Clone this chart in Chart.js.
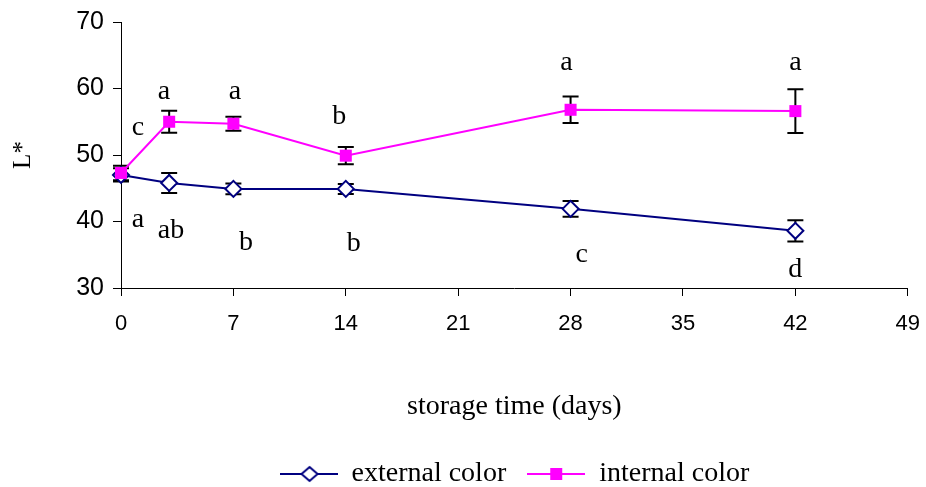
<!DOCTYPE html>
<html>
<head>
<meta charset="utf-8">
<script src="https://cdn.jsdelivr.net/npm/chart.js@4"></script>
<style>
  html, body { margin: 0; padding: 0; background: #fff; }
  #wrap { width: 926px; height: 487px; }
</style>
</head>
<body>
<div id="wrap"><canvas id="chart"></canvas></div>
<script>
// storage days and L* means with error bars
const days = [0, 3, 7, 14, 28, 42];
const externalL = [47.0, 45.8, 44.9, 44.9, 41.9, 38.6];
const externalErr = [1.0, 1.5, 0.8, 0.75, 1.2, 1.6];
const internalL = [47.3, 55.0, 54.7, 49.9, 56.8, 56.6];
const internalErr = [1.1, 1.65, 1.05, 1.3, 2.0, 3.3];

const xTicks = [0, 7, 14, 21, 28, 35, 42, 49];
const yTicks = [30, 40, 50, 60, 70];

// significance letters (day, L* of baseline, text)
const letterText = ['c', 'a', 'a', 'ab', 'a', 'b', 'b', 'b', 'a', 'c', 'a', 'd'];
const letterDay = [1.06, 1.06, 2.68, 3.11, 7.09, 7.78, 13.6, 14.5, 27.75, 28.7, 42.0, 42.0];
const letterL = [53.0, 39.2, 58.4, 37.5, 58.4, 35.7, 54.7, 35.6, 62.8, 33.9, 62.8, 31.65];

const NAVY = '#000080';
const MAGENTA = '#ff00ff';
const SERIF = '"Liberation Serif", "Times New Roman", serif';

function legendIcon(kind) {
  const c = document.createElement('canvas');
  c.width = 58; c.height = 20;
  const g = c.getContext('2d');
  g.lineWidth = 2;
  if (kind === 'diamond') {
    g.strokeStyle = NAVY;
    g.beginPath(); g.moveTo(0, 10); g.lineTo(58, 10); g.stroke();
    g.fillStyle = '#fff';
    g.beginPath();
    g.moveTo(30, 3); g.lineTo(38, 10); g.lineTo(30, 17); g.lineTo(22, 10); g.closePath();
    g.fill(); g.stroke();
  } else {
    g.strokeStyle = MAGENTA;
    g.beginPath(); g.moveTo(0, 10); g.lineTo(58, 10); g.stroke();
    g.fillStyle = MAGENTA;
    g.fillRect(23, 4, 12, 12);
  }
  return c;
}

const errorBars = {
  id: 'errorBars',
  beforeDatasetsDraw(chart) {
    const ctx = chart.ctx;
    const xs = chart.scales.x, ys = chart.scales.y;
    const sets = [[externalL, externalErr], [internalL, internalErr]];
    ctx.save();
    ctx.strokeStyle = '#000';
    ctx.lineWidth = 2;
    sets.forEach(([vals, errs]) => {
      days.forEach((d, i) => {
        const x = xs.getPixelForValue(d);
        const yt = ys.getPixelForValue(vals[i] + errs[i]);
        const yb = ys.getPixelForValue(vals[i] - errs[i]);
        ctx.beginPath();
        ctx.moveTo(x, yt); ctx.lineTo(x, yb);
        ctx.moveTo(x - 8, yt); ctx.lineTo(x + 8, yt);
        ctx.moveTo(x - 8, yb); ctx.lineTo(x + 8, yb);
        ctx.stroke();
      });
    });
    ctx.restore();
  }
};

const letters = {
  id: 'letters',
  afterDatasetsDraw(chart) {
    const ctx = chart.ctx;
    const xs = chart.scales.x, ys = chart.scales.y;
    ctx.save();
    ctx.fillStyle = '#000';
    ctx.font = '28px ' + SERIF;
    ctx.textAlign = 'center';
    ctx.textBaseline = 'alphabetic';
    letterText.forEach((t, i) => {
      ctx.fillText(t, xs.getPixelForValue(letterDay[i]), ys.getPixelForValue(letterL[i]));
    });
    ctx.restore();
  }
};

new Chart(document.getElementById('chart'), {
  type: 'line',
  data: {
    datasets: [
      {
        label: 'external color',
        data: days.map((d, i) => ({ x: d, y: externalL[i] })),
        borderColor: NAVY,
        borderWidth: 2,
        backgroundColor: '#fff',
        pointStyle: 'rectRot',
        pointRadius: 8,
        pointBorderWidth: 2,
        pointBorderColor: NAVY,
        pointBackgroundColor: '#fff',
        tension: 0,
        clip: false,
        order: 1
      },
      {
        label: 'internal color',
        data: days.map((d, i) => ({ x: d, y: internalL[i] })),
        borderColor: MAGENTA,
        borderWidth: 2,
        backgroundColor: MAGENTA,
        pointStyle: 'rect',
        pointRadius: 8.5,
        pointBorderWidth: 0,
        pointBackgroundColor: MAGENTA,
        tension: 0,
        clip: false,
        order: 0
      }
    ]
  },
  options: {
    responsive: true,
    maintainAspectRatio: false,
    animation: false,
    layout: { padding: { top: 22, right: 18, left: 0, bottom: -11 } },
    scales: {
      x: {
        type: 'linear',
        min: 0,
        max: 49,
        afterBuildTicks: s => { s.ticks = xTicks.map(v => ({ value: v })); },
        afterFit: s => { s.height = 172; },
        ticks: {
          color: '#000',
          padding: 6,
          maxRotation: 0,
          font: { family: '"Liberation Sans", Arial', size: 22, lineHeight: 2 }
        },
        grid: { drawOnChartArea: false, color: '#000', tickLength: 8, tickWidth: 1 },
        border: { color: '#000', width: 1 },
        title: {
          display: true,
          text: 'storage time (days)',
          color: '#000',
          font: { family: SERIF, size: 28 },
          padding: { top: 0, bottom: 37 }
        }
      },
      y: {
        min: 30,
        max: 70,
        afterBuildTicks: s => { s.ticks = yTicks.map(v => ({ value: v })); },
        afterFit: s => { s.width = 121; },
        ticks: {
          color: '#000',
          padding: 9,
          font: { family: '"Liberation Sans", Arial', size: 25, lineHeight: 1 }
        },
        grid: { drawOnChartArea: false, color: '#000', tickLength: 8, tickWidth: 1 },
        border: { color: '#000', width: 1 },
        title: {
          display: true,
          text: 'L*',
          color: '#000',
          font: { family: SERIF, size: 25 },
          padding: { top: 8, bottom: 0 }
        }
      }
    },
    plugins: {
      tooltip: { enabled: false },
      legend: {
        position: 'bottom',
        fullSize: false,
        labels: {
          usePointStyle: true,
          pointStyleWidth: 58,
          color: '#000',
          padding: 0,
          font: { family: SERIF, size: 28 },
          sort: (a, b) => a.datasetIndex - b.datasetIndex,
          generateLabels: chart => chart.data.datasets.map((ds, i) => ({
            // trailing spaces give the gap between the two legend entries
            text: i === 0 ? ds.label + '   ' : ds.label,
            datasetIndex: i,
            pointStyle: legendIcon(i === 0 ? 'diamond' : 'square'),
            fillStyle: 'transparent',
            strokeStyle: 'transparent',
            lineWidth: 0,
            fontColor: '#000',
            hidden: false
          }))
        }
      }
    }
  },
  plugins: [errorBars, letters]
});
</script>
</body>
</html>
